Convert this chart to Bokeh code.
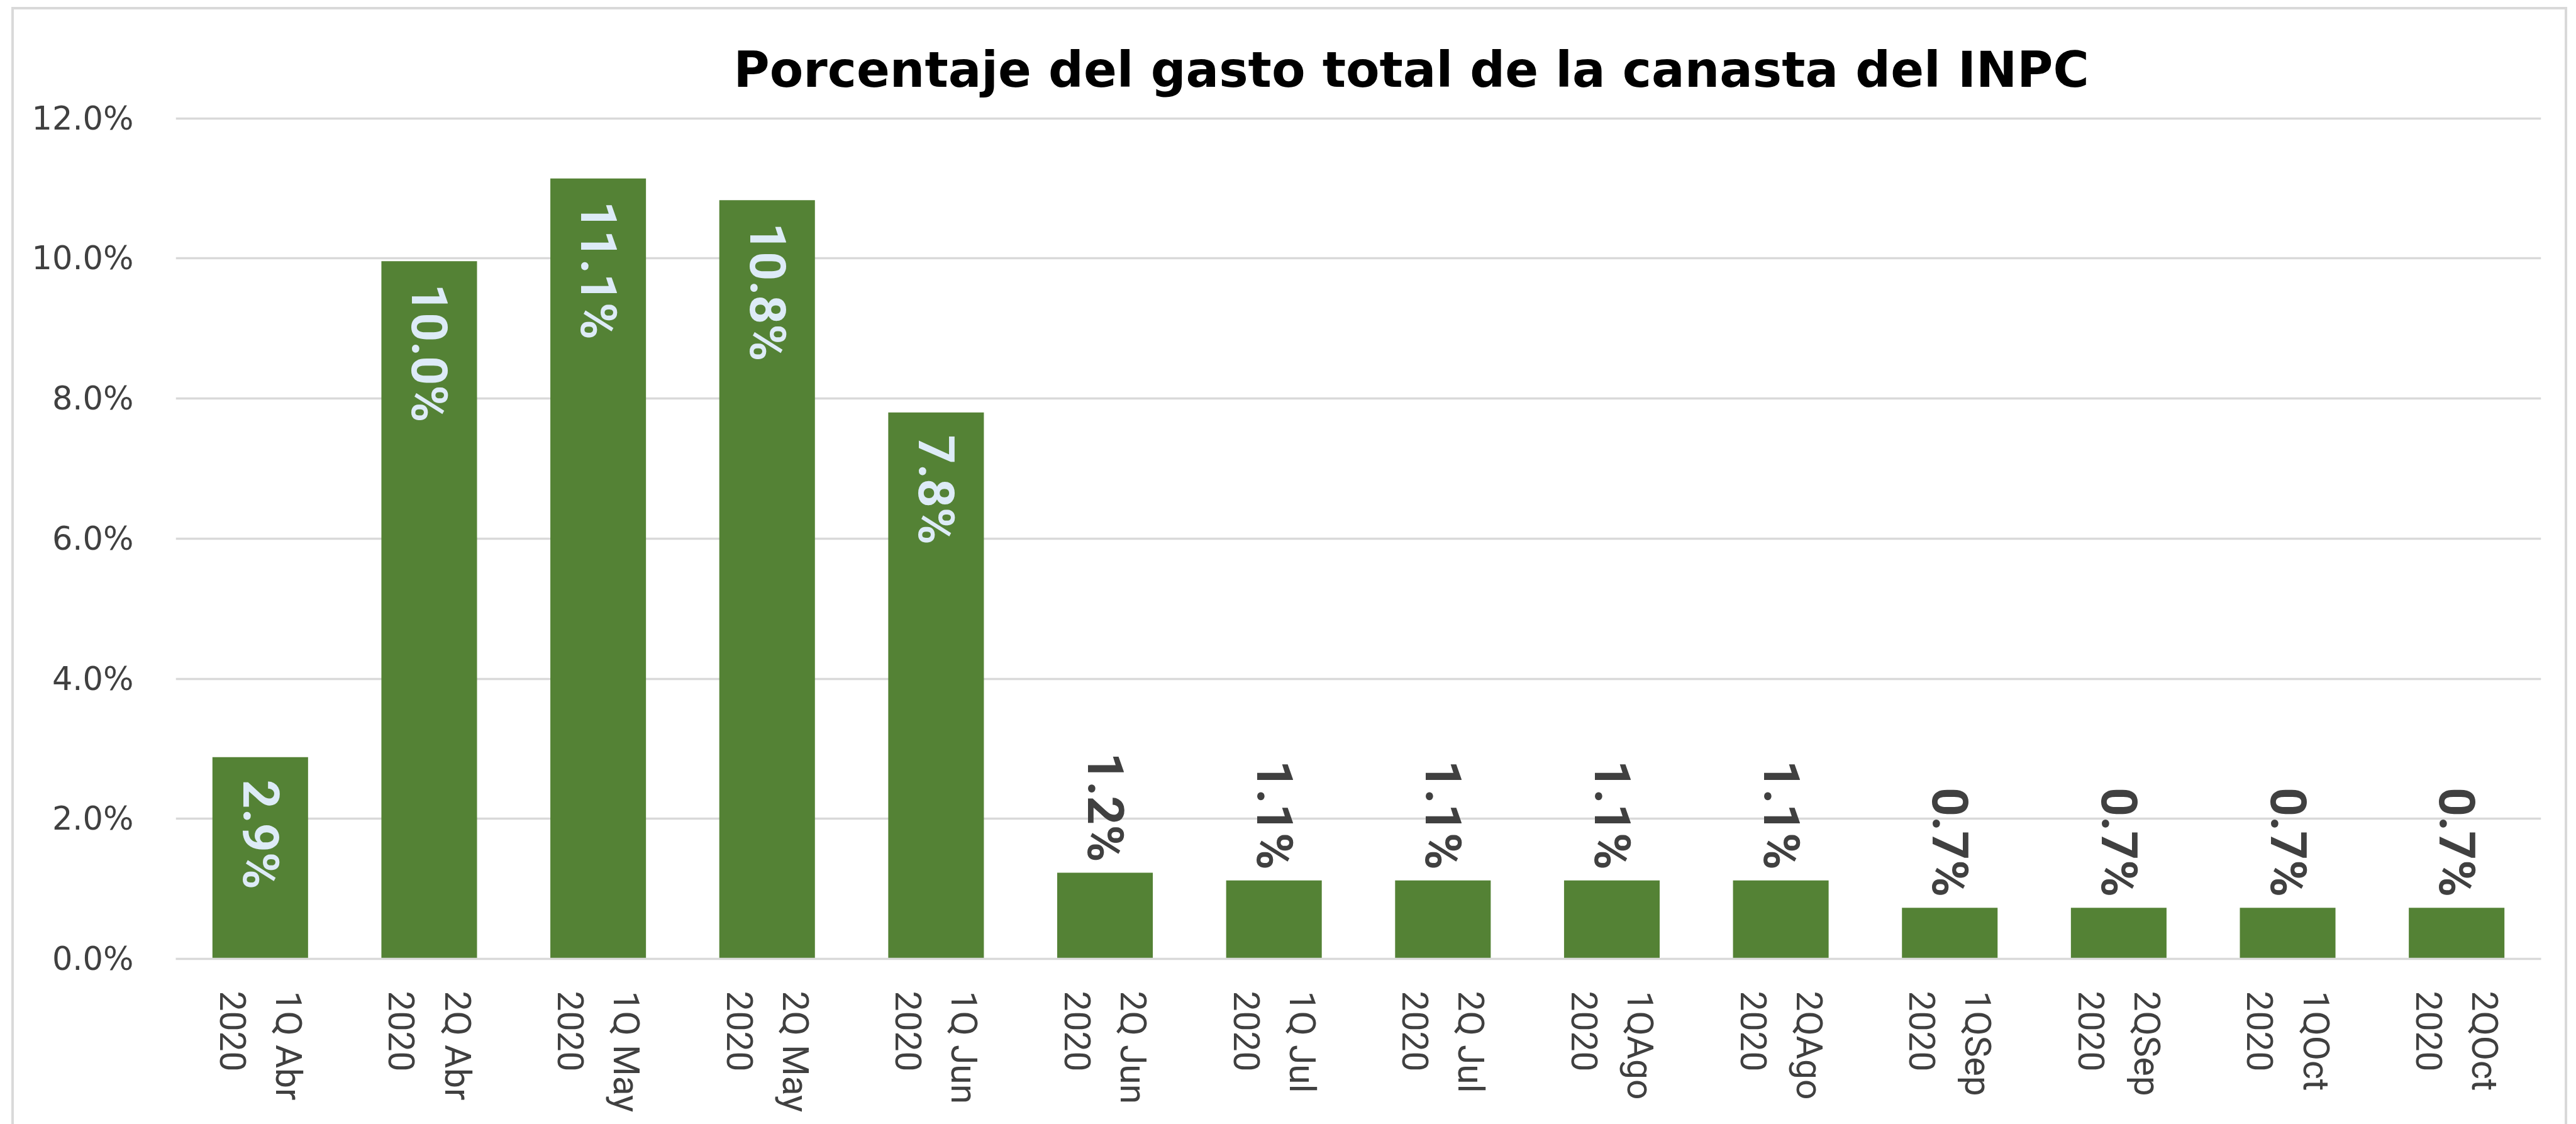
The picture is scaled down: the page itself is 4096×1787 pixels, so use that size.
import math
from bokeh.plotting import figure
from bokeh.models import ColumnDataSource, FixedTicker, FactorRange, Range1d, InlineStyleSheet
from bokeh.core.properties import value
from bokeh.embed import file_html
from bokeh.resources import INLINE

# ---- data ----
categories = [
    "1Q Abr\n2020", "2Q Abr\n2020", "1Q May\n2020", "2Q May\n2020",
    "1Q Jun\n2020", "2Q Jun\n2020", "1Q Jul\n2020", "2Q Jul\n2020",
    "1QAgo\n2020", "2QAgo\n2020", "1QSep\n2020", "2QSep\n2020",
    "1QOct\n2020", "2QOct\n2020",
]
values = [2.88, 9.96, 11.14, 10.83, 7.80, 1.23, 1.12, 1.12, 1.12, 1.12, 0.73, 0.73, 0.73, 0.73]
y_ticks = [0, 2, 4, 6, 8, 10, 12]
y_tick_labels = ["0.0%", "2.0%", "4.0%", "6.0%", "8.0%", "10.0%", "12.0%"]
title_text = "Porcentaje del gasto total de la canasta del INPC"

labels = ["{:.1f}%".format(v) for v in values]
inside = [v > 2 for v in values]

src_bars = ColumnDataSource(dict(cat=categories, val=values))
src_in = ColumnDataSource(dict(
    cat=[c for c, f in zip(categories, inside) if f],
    val=[v for v, f in zip(values, inside) if f],
    lab=[l for l, f in zip(labels, inside) if f],
))
src_out = ColumnDataSource(dict(
    cat=[c for c, f in zip(categories, inside) if not f],
    val=[v for v, f in zip(values, inside) if not f],
    lab=[l for l, f in zip(labels, inside) if not f],
))

p = figure(
    width=4096, height=1787,
    x_range=FactorRange(factors=categories), y_range=Range1d(0, 12.05),
    output_backend="svg", toolbar_location=None,
    min_border_left=279, min_border_right=56, min_border_top=182, min_border_bottom=263,
)
p.background_fill_color = "white"
p.border_fill_color = "white"
p.outline_line_color = None

# title
p.title.text = title_text
p.title.align = "left"
p.title.offset = 887
p.title.standoff = 54
p.title.vertical_align = "bottom"
p.title.text_font = "DejaVu Sans"
p.title.text_font_style = "bold"
p.title.text_font_size = "78px"
p.title.text_color = "black"

p.vbar(x="cat", top="val", width=0.566, source=src_bars,
       fill_color="#548235", line_color=None)

p.text(x="cat", y="val", text="lab", source=src_in, angle=-math.pi / 2,
       text_align="left", text_baseline="middle", y_offset=36,
       text_color="#DDEBF7", text_font=value("Roboto"),
       text_font_style="bold", text_font_size="80px")
p.text(x="cat", y="val", text="lab", source=src_out, angle=-math.pi / 2,
       text_align="right", text_baseline="middle", y_offset=-17,
       text_color="#404040", text_font=value("Roboto"),
       text_font_style="bold", text_font_size="80px")

# axes
xa = p.xaxis[0]
xa.major_label_orientation = -math.pi / 2
xa.major_label_text_align = "center"
xa.major_label_text_font = "Roboto"
xa.major_label_text_font_size = "57px"
xa.major_label_text_color = "#404040"
xa.major_label_text_line_height = 1.33
xa.major_label_standoff = 45
xa.major_tick_line_color = None
xa.minor_tick_line_color = None
xa.axis_line_color = "#D9D9D9"
xa.axis_line_width = 3.5

ya = p.yaxis[0]
ya.ticker = FixedTicker(ticks=y_ticks)
ya.major_label_overrides = {t: l for t, l in zip(y_ticks, y_tick_labels)}
ya.major_label_text_font = "DejaVu Sans"
ya.major_label_text_font_size = "51px"
ya.major_label_text_color = "#404040"
ya.major_label_standoff = 61
ya.axis_line_color = None
ya.major_tick_line_color = None
ya.minor_tick_line_color = None

p.xgrid.visible = False
p.ygrid.grid_line_color = "#D9D9D9"
p.ygrid.grid_line_width = 3.5

# outer chart-area border (light grey box, open at the bottom edge of the window)
p.stylesheets = [InlineStyleSheet(css="""
:host { position: relative; }
:host::after {
  content: ""; position: absolute; pointer-events: none;
  left: 18px; top: 11px; right: 14px; bottom: 0px;
  border: 4px solid #D9D9D9; border-bottom: none;
}
""")]

open("out.html", "w").write(file_html(p, INLINE))
